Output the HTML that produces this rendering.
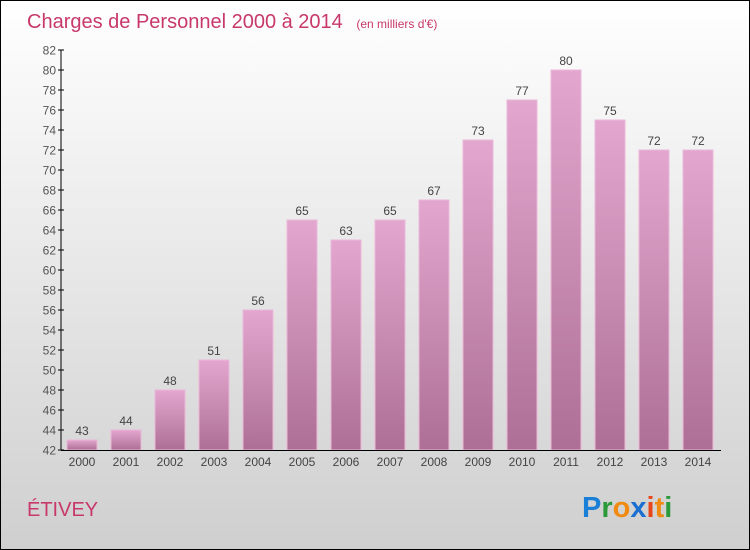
<!DOCTYPE html>
<html><head><meta charset="utf-8"><style>
body{margin:0}
svg{display:block;font-family:"Liberation Sans",sans-serif}
</style></head><body>
<svg width="750" height="550" viewBox="0 0 750 550">
<defs>
<linearGradient id="bg" x1="0" y1="0" x2="0" y2="1"><stop offset="0" stop-color="#ffffff"/><stop offset="1" stop-color="#cfcfcf"/></linearGradient>
<linearGradient id="bar" x1="0" y1="0" x2="0" y2="1"><stop offset="0" stop-color="#e3a7cf"/><stop offset="1" stop-color="#ad6f95"/></linearGradient>
</defs>
<rect x="0.5" y="0.5" width="749" height="549" fill="url(#bg)" stroke="#000"/>
<text x="27" y="28" font-size="20" fill="#c8386b">Charges de Personnel 2000 à 2014 <tspan font-size="12" dx="8">(en milliers d'€)</tspan></text>
<g id="yaxis"></g>
<g id="bars"></g>
<g id="xaxis"></g>
<text x="27" y="516" font-size="20" fill="#c8386b">ÉTIVEY</text>
<g font-size="29" font-weight="bold">
<text x="582" y="517"><tspan fill="#1a7fd6">P</tspan><tspan fill="#2a9a3a">r</tspan><tspan fill="#f08a10">o</tspan><tspan fill="#1a6fd0">x</tspan><tspan fill="#e8461a">i</tspan><tspan fill="#f08a10">t</tspan><tspan fill="#2a9a3a">i</tspan></text>
</g>
</svg>
<script>
const years=["2000","2001","2002","2003","2004","2005","2006","2007","2008","2009","2010","2011","2012","2013","2014"];
const values=[43,44,48,51,56,65,63,65,67,73,77,80,75,72,72];
const yTicks=[42,44,46,48,50,52,54,56,58,60,62,64,66,68,70,72,74,76,78,80,82];
const NS="http://www.w3.org/2000/svg";
const yMin=42,yMax=82,plotTop=50,plotBottom=450;
function y(v){return plotBottom-(v-yMin)/(yMax-yMin)*(plotBottom-plotTop);}
function x(i){return 82+i*44;}
function mk(t,a,p){const e=document.createElementNS(NS,t);for(const k in a)e.setAttribute(k,a[k]);p.appendChild(e);return e;}
const ya=document.getElementById('yaxis'),bg=document.getElementById('bars'),xa=document.getElementById('xaxis');
mk('line',{x1:61,y1:plotTop,x2:61,y2:plotBottom,stroke:'#000'},ya);
yTicks.forEach(t=>{
 const l=mk('line',{x1:58,x2:64,y1:y(t),y2:y(t),stroke:'#000'},ya);
 
 
 const tx=mk('text',{x:56,y:y(t)+4.5,'text-anchor':'end','font-size':12,fill:'#555'},ya);
 tx.textContent=t;
 
 
});
mk('line',{x1:61,y1:plotBottom+0.5,x2:721,y2:plotBottom+0.5,stroke:'#000'},xa);
years.forEach((yr,i)=>{
 const r=mk('rect',{x:x(i)-15,y:y(values[i]),width:30,height:plotBottom-y(values[i]),fill:'url(#bar)',stroke:'#eab8d8'},bg);
 
 
 const v=mk('text',{x:x(i),y:y(values[i])-5,'text-anchor':'middle','font-size':12,fill:'#444'},bg);
 v.textContent=values[i];
 
 
 const tx=mk('text',{x:x(i),y:466,'text-anchor':'middle','font-size':12,fill:'#444'},xa);
 tx.textContent=yr;
 
 
});
</script>
</body></html>
